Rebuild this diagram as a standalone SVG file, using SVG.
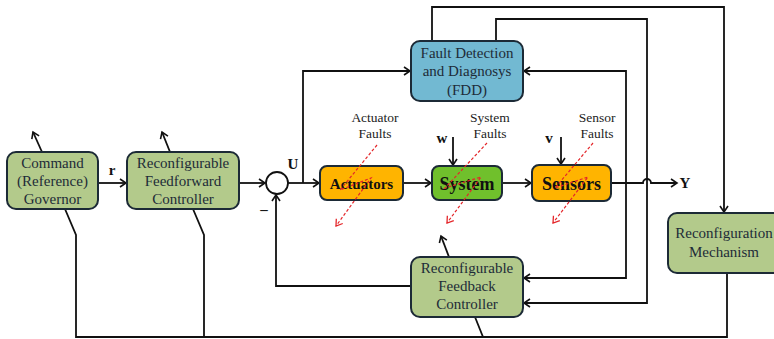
<svg xmlns="http://www.w3.org/2000/svg" width="774" height="339" viewBox="0 0 774 339">
  <style>
    .box { stroke: #1c2a36; stroke-width: 2; }
    .ctrl { fill: #b3ca8b; }
    .fdd { fill: #72b9d2; }
    .act { fill: #ffb400; }
    .sys { fill: #70c02c; }
    .lbl { font-family: "Liberation Serif", "Times New Roman", serif; font-size: 15px; fill: #1e2c38; text-anchor: middle; }
    .blk { font-family: "Liberation Serif", "Times New Roman", serif; font-weight: bold; fill: #111; text-anchor: middle; }
    .flt { font-family: "Liberation Serif", "Times New Roman", serif; font-size: 13.5px; fill: #222; text-anchor: middle; }
    .sym { font-family: "Liberation Serif", "Times New Roman", serif; font-weight: bold; font-size: 15px; fill: #111; text-anchor: middle; }
    .wire { fill: none; stroke: #111; stroke-width: 1.8; }
    .fault { fill: none; stroke: #e4262a; stroke-width: 1.2; stroke-dasharray: 3 2; }
  </style>
  <defs>
    <marker id="arr" markerWidth="10" markerHeight="10" refX="8" refY="5" orient="auto" markerUnits="userSpaceOnUse">
      <path d="M2,1 L8,5 L2,9" fill="none" stroke="#111" stroke-width="1.6"/>
    </marker>
    <marker id="rarr" markerWidth="10" markerHeight="10" refX="8" refY="5" orient="auto" markerUnits="userSpaceOnUse">
      <path d="M2,1 L8,5 L2,9" fill="none" stroke="#e4262a" stroke-width="1.3"/>
    </marker>
  </defs>

  <!-- connectors -->
  <g id="connectors">
    <!-- forward path -->
    <path class="wire" d="M98,183 H126" marker-end="url(#arr)"/>
    <path class="wire" d="M239,183 H265" marker-end="url(#arr)"/>
    <path class="wire" d="M288,183 H319" marker-end="url(#arr)"/>
    <path class="wire" d="M403,183 H431" marker-end="url(#arr)"/>
    <path class="wire" d="M502,183 H531" marker-end="url(#arr)"/>
    <path class="wire" d="M611,183 H643 A4,4 0 0 1 651,183 H677" marker-end="url(#arr)"/>
    <!-- control signal U to FDD -->
    <path class="wire" d="M303,183 V71 H410" marker-end="url(#arr)"/>
    <!-- output Y to FDD and feedback controller -->
    <path class="wire" d="M626,183 V71 H524" marker-end="url(#arr)"/>
    <path class="wire" d="M626,183 V278 H524" marker-end="url(#arr)"/>
    <!-- FDD to feedback controller -->
    <path class="wire" d="M496,41 V19 H647 V303 H524" marker-end="url(#arr)"/>
    <!-- FDD to reconfiguration mechanism -->
    <path class="wire" d="M432,41 V7 H724 V212" marker-end="url(#arr)"/>
    <!-- feedback loop to summing junction -->
    <path class="wire" d="M411,286 H276 V195" marker-end="url(#arr)"/>
    <!-- disturbances -->
    <path class="wire" d="M453,137 V165" marker-end="url(#arr)"/>
    <path class="wire" d="M561,137 V164" marker-end="url(#arr)"/>
    <!-- reconfiguration bus -->
    <path class="wire" d="M65,209 L76,235 V337 H727 V273"/>
    <path class="wire" d="M193,209 L204,235 V337"/>
    <path class="wire" d="M475,317 L483,337"/>
    <!-- tuning arrows -->
    <path class="wire" d="M42,152 L33,132" marker-end="url(#arr)"/>
    <path class="wire" d="M170,152 L162,132" marker-end="url(#arr)"/>
    <path class="wire" d="M449,257 L441,236" marker-end="url(#arr)"/>
  </g>

  <!-- summing junction -->
  <g id="sum">
    <circle cx="277" cy="183" r="11" fill="#fff" stroke="#111" stroke-width="1.8"/>
    <text class="sym" x="293" y="169" font-size="15">U</text>
    <text class="sym" x="264" y="214" font-size="16">–</text>
  </g>

  <g id="governor">
    <rect class="box ctrl" x="7" y="152" width="91" height="57" rx="9"/>
    <text class="lbl" x="52.5" y="168">Command</text>
    <text class="lbl" x="52.5" y="186">(Reference)</text>
    <text class="lbl" x="52.5" y="204">Governor</text>
  </g>
  <text class="sym" x="112" y="175">r</text>

  <g id="feedforward">
    <rect class="box ctrl" x="127" y="152" width="112" height="57" rx="9"/>
    <text class="lbl" x="183" y="168">Reconfigurable</text>
    <text class="lbl" x="183" y="186">Feedforward</text>
    <text class="lbl" x="183" y="204">Controller</text>
  </g>

  <g id="fdd">
    <rect class="box fdd" x="411" y="41" width="112" height="60" rx="9"/>
    <text class="lbl" x="467" y="58">Fault Detection</text>
    <text class="lbl" x="467" y="76">and Diagnosys</text>
    <text class="lbl" x="467" y="95">(FDD)</text>
  </g>

  <g id="actuators">
    <rect class="box act" x="320" y="166" width="83" height="34" rx="7"/>
    <text class="blk" x="361.5" y="189" font-size="15">Actuators</text>
  </g>

  <g id="system">
    <rect class="box sys" x="432" y="166" width="70" height="34" rx="7"/>
    <text class="blk" x="467" y="190" font-size="18">System</text>
  </g>

  <g id="sensors">
    <rect class="box act" x="532" y="165" width="79" height="36" rx="7"/>
    <text class="blk" x="571.5" y="190" font-size="18">Sensors</text>
  </g>

  <g id="feedback">
    <rect class="box ctrl" x="411" y="257" width="112" height="60" rx="9"/>
    <text class="lbl" x="467" y="273">Reconfigurable</text>
    <text class="lbl" x="467" y="291">Feedback</text>
    <text class="lbl" x="467" y="309">Controller</text>
  </g>

  <g id="reconfiguration">
    <rect class="box ctrl" x="668" y="213" width="116" height="60" rx="9"/>
    <text class="lbl" x="724" y="238">Reconfiguration</text>
    <text class="lbl" x="724" y="257">Mechanism</text>
  </g>

  <!-- signal labels -->
  <text class="sym" x="442" y="143">w</text>
  <text class="sym" x="549" y="143">v</text>
  <text class="sym" x="685" y="188" font-size="17">Y</text>

  <!-- fault labels -->
  <g id="faults">
    <text class="flt" x="375" y="122">Actuator</text>
    <text class="flt" x="375" y="138">Faults</text>
    <text class="flt" x="490" y="122">System</text>
    <text class="flt" x="490" y="138">Faults</text>
    <text class="flt" x="597" y="122">Sensor</text>
    <text class="flt" x="597" y="138">Faults</text>
    <path class="fault" d="M377,145 L340,190 L371,178 L336,226" marker-end="url(#rarr)"/>
    <path class="fault" d="M487,143 L445,188 L481,177 L447,223" marker-end="url(#rarr)"/>
    <path class="fault" d="M593,143 L555,188 L588,177 L553,223" marker-end="url(#rarr)"/>
  </g>
</svg>
